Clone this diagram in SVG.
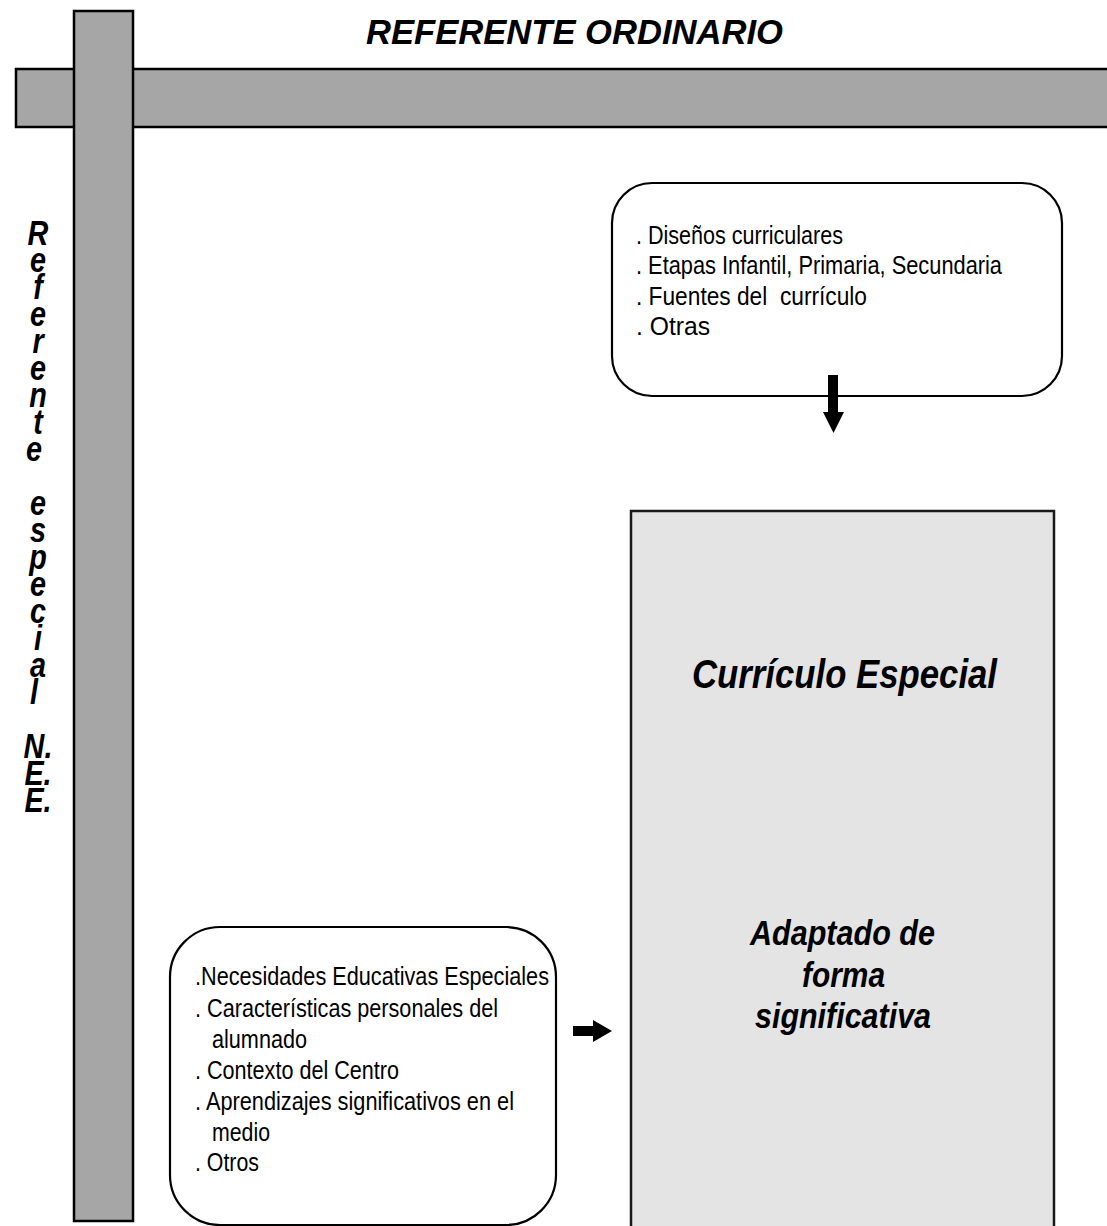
<svg xmlns="http://www.w3.org/2000/svg" width="1107" height="1226" viewBox="0 0 1107 1226">
<style>
.bar{fill:#a6a6a6;stroke:#000;stroke-width:2.5}
.box{fill:#fff;stroke:#000;stroke-width:2.2}
.big{fill:#e4e4e4;stroke:#1a1a1a;stroke-width:2.5}
.t{font-family:"Liberation Sans",Arial,sans-serif;font-size:26.5px;fill:#000}
.bi{font-family:"Liberation Sans",Arial,sans-serif;font-weight:bold;font-style:italic;fill:#000}
.arr{fill:#000}
</style>
<rect width="1107" height="1226" fill="#fff"/>
<g id="horizontal-bar"><rect class="bar" x="16" y="69" width="1100" height="58"/></g>
<g id="vertical-bar"><rect class="bar" x="74" y="11" width="59" height="1210"/></g>
<g id="title"><text class="bi" x="366" y="44" font-size="35" textLength="417" lengthAdjust="spacingAndGlyphs">REFERENTE ORDINARIO</text></g>
<g id="vertical-label" transform="translate(38,0) scale(0.8,1)">
<text class="bi" font-size="36" text-anchor="middle">
<tspan x="0" y="245">R</tspan><tspan x="0" y="272">e</tspan><tspan x="0" y="299">f</tspan><tspan x="0" y="326">e</tspan><tspan x="0" y="353">r</tspan><tspan x="0" y="380">e</tspan><tspan x="0" y="407">n</tspan><tspan x="0" y="434">t</tspan><tspan x="0" y="461">e</tspan>
<tspan x="0" y="515">e</tspan><tspan x="0" y="542">s</tspan><tspan x="0" y="569">p</tspan><tspan x="0" y="596">e</tspan><tspan x="0" y="623">c</tspan><tspan x="0" y="650">i</tspan><tspan x="0" y="677">a</tspan><tspan x="0" y="704">l</tspan>
<tspan x="0" y="758">N.</tspan><tspan x="0" y="785">E.</tspan><tspan x="0" y="812">E.</tspan>
</text>
</g>
<g id="box-ordinario">
<rect class="box" x="612" y="183" width="450" height="213" rx="40" ry="40"/>
<text class="t" xml:space="preserve"><tspan x="636" y="244" textLength="207" lengthAdjust="spacingAndGlyphs">. Diseños curriculares</tspan></text>
<text class="t" x="636" y="274" textLength="366" lengthAdjust="spacingAndGlyphs">. Etapas Infantil, Primaria, Secundaria</text>
<text class="t" x="636" y="305" textLength="231" lengthAdjust="spacingAndGlyphs" xml:space="preserve">. Fuentes del  currículo</text>
<text class="t" x="636" y="335" textLength="74" lengthAdjust="spacingAndGlyphs">. Otras</text>
</g>
<g id="box-curriculo-especial">
<rect class="big" x="631" y="511" width="423" height="730"/>
<text class="bi" x="692" y="688" font-size="40" textLength="305" lengthAdjust="spacingAndGlyphs">Currículo Especial</text>
<text class="bi" x="750" y="945" font-size="35" textLength="185" lengthAdjust="spacingAndGlyphs">Adaptado de</text>
<text class="bi" x="802" y="987" font-size="35" textLength="83" lengthAdjust="spacingAndGlyphs">forma</text>
<text class="bi" x="755" y="1028" font-size="35" textLength="176" lengthAdjust="spacingAndGlyphs">significativa</text>
</g>
<g id="box-especial">
<rect class="box" x="170" y="927" width="386" height="298" rx="50" ry="50"/>
<text class="t" x="195" y="985" textLength="354" lengthAdjust="spacingAndGlyphs">.Necesidades Educativas Especiales</text>
<text class="t" x="195" y="1017" textLength="303" lengthAdjust="spacingAndGlyphs">. Características personales del</text>
<text class="t" x="212" y="1048" textLength="95" lengthAdjust="spacingAndGlyphs">alumnado</text>
<text class="t" x="195" y="1079" textLength="204" lengthAdjust="spacingAndGlyphs">. Contexto del Centro</text>
<text class="t" x="195" y="1110" textLength="319" lengthAdjust="spacingAndGlyphs">. Aprendizajes significativos en el</text>
<text class="t" x="212" y="1141" textLength="58" lengthAdjust="spacingAndGlyphs">medio</text>
<text class="t" x="195" y="1171" textLength="64" lengthAdjust="spacingAndGlyphs">. Otros</text>
</g>
<g id="connectors">
<polygon class="arr" points="828,375 838,375 838,412 844,412 833.5,433 823,412 828,412"/>
<polygon class="arr" points="573,1026 593,1026 593,1020 612,1031 593,1042 593,1036 573,1036"/>
</g>
</svg>
